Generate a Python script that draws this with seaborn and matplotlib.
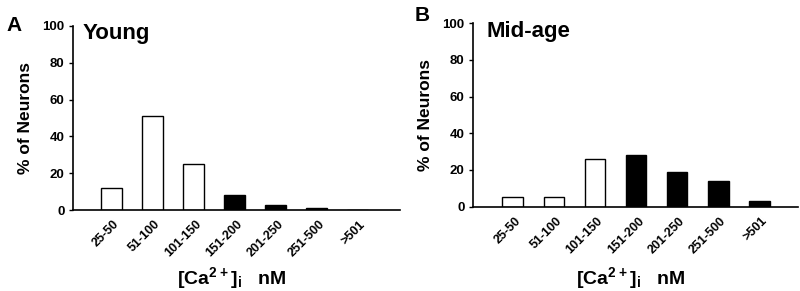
import matplotlib
matplotlib.use('Agg')
import matplotlib.pyplot as plt
import matplotlib.transforms as mtransforms
import seaborn as sns

## data
categories = ['25-50', '51-100', '101-150', '151-200', '201-250', '251-500', '>501']
young = [12, 51, 25, 8, 3, 1, 0]
midage = [5, 5, 26, 28, 19, 14, 3]
bar_colors = ['white', 'white', 'white', 'black', 'black', 'black', 'black']

sns.set_style('ticks')
plt.rcParams['font.family'] = ['Liberation Sans', 'DejaVu Sans']
plt.rcParams['font.weight'] = 'bold'
plt.rcParams['mathtext.fontset'] = 'custom'
plt.rcParams['mathtext.bf'] = 'Liberation Sans:bold'
plt.rcParams['mathtext.rm'] = 'Liberation Sans:bold'
plt.rcParams['mathtext.default'] = 'bf'
for k in ['text.color', 'axes.labelcolor', 'xtick.color', 'ytick.color', 'axes.edgecolor']:
    plt.rcParams[k] = 'black'

fig = plt.figure(figsize=(8, 2.91), dpi=100)
ax1 = fig.add_axes([0.091, 0.278, 0.409, 0.633])
ax2 = fig.add_axes([0.591, 0.290, 0.4065, 0.630])

def panel(ax, vals, title, xlim, tx, label_y):
    sns.barplot(x=categories, y=vals, hue=categories, palette=bar_colors,
                legend=False, edgecolor='black', linewidth=1.0, width=0.5,
                saturation=1, ax=ax)
    ax.set_ylim(0, 100)
    ax.set_xlim(*xlim)
    ax.set_yticks([0, 20, 40, 60, 80, 100])
    sns.despine(ax=ax)
    for s in ['left', 'bottom']:
        ax.spines[s].set_linewidth(1.2)
    ax.tick_params(axis='y', length=3, width=1.0, labelsize=9.5, pad=3)
    ax.tick_params(axis='x', length=0, labelsize=9, pad=6)
    offset = mtransforms.ScaledTranslation(2 / 100, 0, fig.dpi_scale_trans)
    for lab in ax.get_xticklabels():
        lab.set_rotation(45)
        lab.set_ha('right')
        lab.set_rotation_mode('anchor')
        lab.set_fontweight('bold')
        lab.set_transform(lab.get_transform() + offset)
    for lab in ax.get_yticklabels():
        lab.set_fontweight('bold')
    ax.set_ylabel('% of Neurons', fontsize=12.5, fontweight='bold', labelpad=7)
    ax.set_xlabel(r'[Ca$^{2+}$]$_\mathbf{i}$   nM', fontsize=14, fontweight='bold')
    ax.xaxis.set_label_coords(0.485, label_y)
    ax.text(tx, 1.015, title, transform=ax.transAxes, fontsize=16,
            fontweight='bold', va='top', ha='left')

panel(ax1, young, 'Young', (-0.94, 7.04), 0.03, -0.30)
panel(ax2, midage, 'Mid-age', (-0.97, 6.94), 0.043, -0.32)

fig.text(0.008, 0.945, 'A', fontsize=15, fontweight='bold', va='top', ha='left')
fig.text(0.518, 0.978, 'B', fontsize=15, fontweight='bold', va='top', ha='left')

plt.savefig('out.png', dpi=100)
